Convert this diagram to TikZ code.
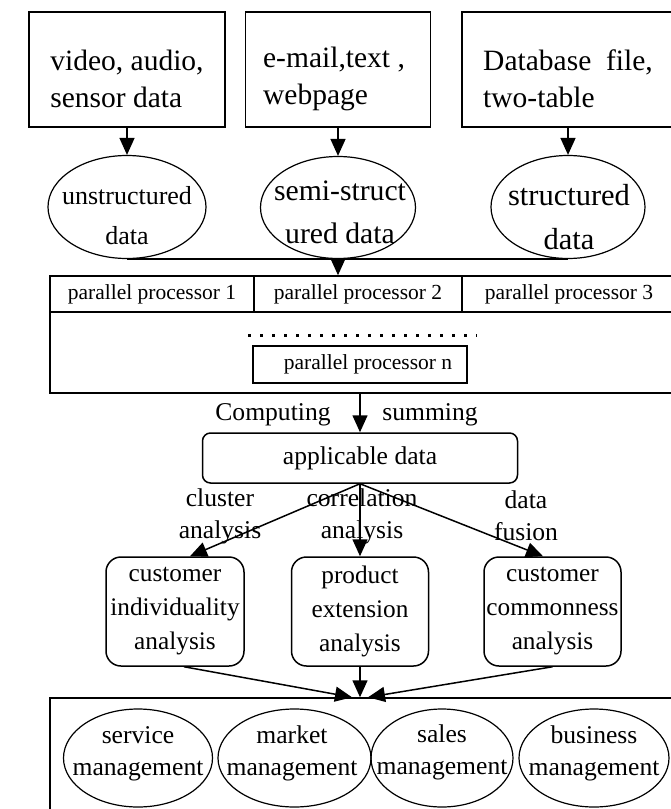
\documentclass[tikz,border=0pt]{standalone}
\usepackage{fontspec}
\setmainfont{Liberation Serif}
\usepackage{tikz}
\usetikzlibrary{arrows.meta,positioning,shapes.geometric}

\begin{document}
\begin{tikzpicture}[
  x=0.5pt, y=-0.5pt, line width=0.75pt,
  srcbox/.style={draw, inner sep=0pt},
  srctext/.style={align=left, inner sep=0pt, font=\fontsize{14.75pt}{18.5pt}\selectfont},
  oval/.style={draw, ellipse, inner sep=0pt, line width=0.6pt},
  ovaltext/.style={align=center, inner sep=0pt, font=\fontsize{12.8pt}{16pt}\selectfont},
  cell/.style={draw, inner sep=0pt, font=\fontsize{10.75pt}{13pt}\selectfont},
  rbox/.style={draw, rounded corners=7.5pt, align=center, inner sep=0pt, font=\fontsize{12.65pt}{17pt}\selectfont},
  lbl/.style={align=center, inner sep=0pt, font=\fontsize{12.8pt}{16pt}\selectfont},
  dotline/.style={line width=1.5pt, dash pattern=on 1.5pt off 4.5pt},
  arr/.style={-{Triangle[length=8.5pt, width=7.5pt]}}
]
\useasboundingbox (0,0) rectangle (670,809);

\node[srcbox, minimum width=98pt, minimum height=57.5pt] (video) at (127,69.5) {};
\node[srctext] (video-t) at (127,79) {video, audio,\\sensor data};
\node[srcbox, minimum width=92.5pt, minimum height=57.5pt] (email) at (338,69.5) {};
\node[srctext] (email-t) at (334,79) {e-mail,text ,\\webpage};
\node[srcbox, minimum width=106pt, minimum height=57.5pt] (dbase) at (568,69.5) {};
\node[srctext] (dbase-t) at (568,79) {Database~ file,\\two-table};

\node[oval, minimum width=79pt, minimum height=51.5pt] (unstr) at (127,207) {};
\node[ovaltext, font=\fontsize{13pt}{20pt}\selectfont] (unstr-t) at (127,216) {unstructured\\data};
\node[oval, minimum width=77.5pt, minimum height=51pt] (semi) at (338,207.5) {};
\node[ovaltext, font=\fontsize{14.85pt}{21.5pt}\selectfont] (semi-t) at (340,212) {semi-struct\\ured data};
\node[oval, minimum width=77pt, minimum height=51.5pt] (stru) at (568,207) {};
\node[ovaltext, font=\fontsize{15.25pt}{22pt}\selectfont] (stru-t) at (569,217.5) {structured\\data};

\node[srcbox, minimum width=313pt, minimum height=58.5pt] (proc) at (363,334.5) {};
\node[cell, minimum width=102pt, minimum height=18pt] (pp1) at (152,294) {parallel processor 1};
\node[cell, minimum width=104pt, minimum height=18pt] (pp2) at (358,294) {parallel processor 2};
\node[cell, minimum width=107pt, minimum height=18pt] (pp3) at (569,294) {parallel processor 3};
\draw[dotline] (248,335) -- (477,335);
\node[cell, minimum width=107pt, minimum height=18.5pt] (ppn) at (360,364.5) {\hspace{8pt}parallel processor n};

\node[lbl] (comp) at (273,415) {Computing};
\node[lbl] (sum) at (430,415) {summing};
\node[rbox, rounded corners=4pt, minimum width=157.5pt, minimum height=25pt, font=\fontsize{12.8pt}{16pt}\selectfont] (app) at (360,458) {applicable data};

\node[lbl] (clus) at (220,516) {cluster\\analysis};
\node[lbl] (corr) at (362,516) {correlation\\analysis};
\node[lbl] (fuse) at (526,516) {data\\fusion};

\node[rbox, minimum width=69pt, minimum height=54.5pt] (indiv) at (175,611.5) {customer\\individuality\\analysis};
\node[rbox, minimum width=68.5pt, minimum height=54.5pt] (prod) at (360,611.5) {product\\extension\\analysis};
\node[rbox, minimum width=68.5pt, minimum height=54.5pt] (comm) at (552.5,611.5) {customer\\commonness\\analysis};

\node[srcbox, minimum width=313pt, minimum height=71pt] (mgmt) at (363,769) {};
\node[oval, minimum width=74.5pt, minimum height=49pt] (svc) at (138,758) {};
\node[ovaltext] (svc-t) at (138,753.5) {service\\management};
\node[oval, minimum width=76.5pt, minimum height=49pt] (mkt) at (294.5,758) {};
\node[ovaltext] (mkt-t) at (292,753.5) {market\\management};
\node[oval, minimum width=71pt, minimum height=49pt] (sales) at (442,758) {};
\node[ovaltext] (sales-t) at (442,752.5) {sales\\management};
\node[oval, minimum width=75pt, minimum height=49pt] (bus) at (594,758) {};
\node[ovaltext] (bus-t) at (594,753.5) {business\\management};

\draw[arr] (video) -- (unstr);
\draw[arr] (email) -- (semi);
\draw[arr] (dbase) -- (stru);
\draw (unstr.south) -- (stru.south);
\draw[arr] (semi.south) -- (semi.south |- proc.north);
\draw[arr] (app.north |- proc.south) -- (app.north);
\draw[arr] (app.south) -- ([xshift=7.5pt]indiv.north);
\draw[arr] (app.south) -- (prod.north);
\draw[arr] (app.south) -- ([xshift=-4.75pt]comm.north);
\coordinate (hub) at (prod.south |- mgmt.north);
\draw[arr] ([xshift=4.5pt]indiv.south) -- ([xshift=-4pt]hub);
\draw[arr] (prod.south) -- (hub);
\draw[arr] (comm.south) -- ([xshift=4pt]hub);
\end{tikzpicture}
\end{document}
